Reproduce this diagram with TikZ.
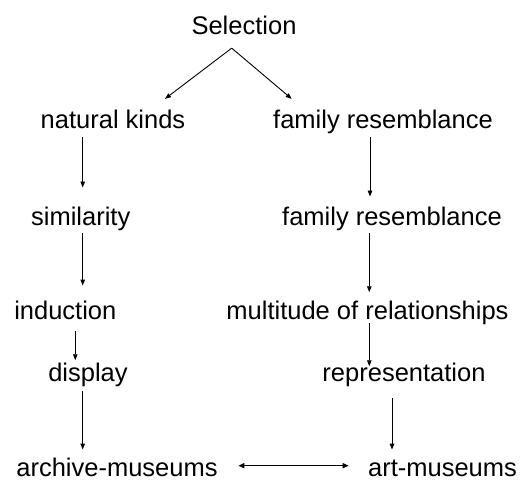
\documentclass[tikz,border=0pt]{standalone}
\usepackage{fontspec}
\setmainfont{Liberation Sans}
\usetikzlibrary{arrows.meta}

\begin{document}
\begin{tikzpicture}[x=1pt,y=-1pt,line width=0.9pt,
  lbl/.style={anchor=base,inner sep=0pt,text height=18.3pt,text depth=5.4pt,font=\fontsize{25.5}{30}\selectfont},
  arr/.style={-{Triangle[length=6pt,width=4.5pt]}}]
\useasboundingbox (0,0) rectangle (527,481);
\node[lbl] (sel)  at (244.0,35.0)  {Selection};
\node[lbl] (nk)   at (113.0,128.3) {natural kinds};
\node[lbl] (fr1)  at (383.0,128.3) {family resemblance};
\node[lbl] (sim)  at (80.7,225.0)  {similarity};
\node[lbl] (fr2)  at (392.0,225.0) {family resemblance};
\node[lbl] (ind)  at (65.3,319.3)  {induction};
\node[lbl] (mult) at (367.5,319.3) {multitude of relationships};
\node[lbl] (disp) at (88.0,381.7)  {display};
\node[lbl] (repr) at (404.0,381.7) {representation};
\node[lbl] (arch) at (117.0,476.7) {archive-museums};
\node[lbl] (art)  at (442.5,476.7) {art-museums};
\draw[arr] ([xshift=-12.3pt,yshift=-7.3pt]sel.south) -- ([xshift=52pt,yshift=10.7pt]nk.north);
\draw[arr] ([xshift=-12.3pt,yshift=-7.3pt]sel.south) -- ([xshift=-91.3pt,yshift=10.7pt]fr1.north);
\draw[arr] ([xshift=-30.3pt,yshift=-3.3pt]nk.south) -- ([xshift=2pt,yshift=18.7pt]sim.north);
\draw[arr] ([xshift=-13pt,yshift=-3.3pt]fr1.south) -- ([xshift=-22pt,yshift=9.7pt]fr2.north);
\draw[arr] ([xshift=2pt,yshift=-2.6pt]sim.south) -- ([xshift=17.4pt,yshift=15pt]ind.north);
\draw[arr] ([xshift=-22.7pt,yshift=-2.6pt]fr2.south) -- ([xshift=1.8pt,yshift=8.3pt]mult.north);
\draw[arr] ([xshift=10pt,yshift=-6.3pt]ind.south) -- ([xshift=-12.7pt,yshift=2.7pt]disp.north);
\draw[arr] ([xshift=1.8pt,yshift=1.7pt]mult.south) -- ([xshift=-34.7pt,yshift=-3.3pt]repr.north);
\draw[arr] ([xshift=-5.3pt,yshift=-3.6pt]disp.south) -- ([xshift=-34.3pt,yshift=8.4pt]arch.north);
\draw[arr] ([xshift=-12pt,yshift=-10.9pt]repr.south) -- ([xshift=-50.5pt,yshift=8.4pt]art.north);
\draw[{Triangle[length=6pt,width=5pt]}-{Triangle[length=6pt,width=5pt]},line width=1.5pt]
  ([xshift=20.3pt,yshift=4.55pt]arch.east) -- ([xshift=-19pt,yshift=4.55pt]art.west);
\end{tikzpicture}
\end{document}
